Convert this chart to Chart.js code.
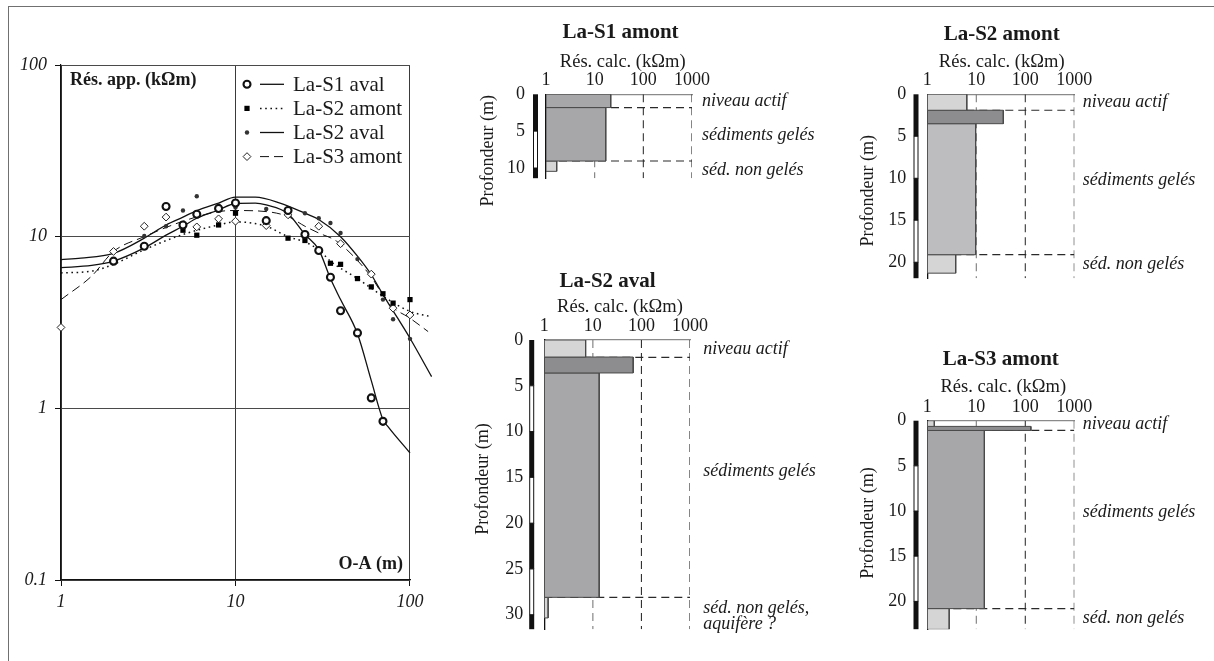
<!DOCTYPE html>
<html lang="fr">
<head>
<meta charset="utf-8">
<title>Sondages électriques – La</title>
<script src="https://cdn.jsdelivr.net/npm/chart.js@4.4.1/dist/chart.umd.min.js"></script>
<style>
  html, body { margin: 0; padding: 0; background: #fff; }
  body { position: relative; width: 1214px; height: 661px; overflow: hidden; }
  #frame { position: absolute; left: 8px; top: 6px; right: -4px; bottom: -4px;
           border-left: 1px solid #707070; border-top: 1px solid #707070; }
  canvas { position: absolute; }
</style>
</head>
<body>
<div id="frame"></div>
<canvas id="sondages" width="460" height="661" style="left:0;top:0"></canvas>
<canvas id="pS1amont" width="360" height="200" style="left:470px;top:10px"></canvas>
<canvas id="pS2aval" width="360" height="411" style="left:470px;top:250px"></canvas>
<canvas id="pS2amont" width="364" height="300" style="left:850px;top:10px"></canvas>
<canvas id="pS3amont" width="364" height="321" style="left:850px;top:340px"></canvas>
<script>
const FONT = "'Liberation Serif', 'Times New Roman', serif";
const INK = '#1a1a1a';
Chart.defaults.font.family = FONT;
Chart.defaults.color = INK;

// ---------- Apparent resistivity soundings (kΩm) vs. half-spacing O-A (m) ----------
const oaTicks = [1, 10, 100];
const rhoTicks = [0.1, 1, 10, 100];

const s1AvalOA  = [2, 3, 4, 5, 6, 8, 10, 15, 20, 25, 30, 35, 40, 50, 60, 70];
const s1AvalRho = [7.2, 8.8, 15.0, 11.7, 13.5, 14.6, 15.7, 12.4, 14.2, 10.3, 8.3, 5.8, 3.7, 2.75, 1.15, 0.84];
const s1AvalFitOA  = [1, 1.5, 2, 3, 4, 5, 6, 8, 10, 13, 15, 20, 25, 30, 35, 40, 50, 60, 70, 75, 100];
const s1AvalFitRho = [6.6, 6.8, 7.2, 8.6, 10.2, 11.5, 12.8, 14.3, 15.6, 15.7, 15.3, 13.6, 10.3, 8.4, 5.7, 4.3, 2.72, 1.45, 0.86, 0.78, 0.55];

const s2AmontOA  = [5, 6, 8, 10, 20, 25, 35, 40, 50, 60, 70, 80, 100];
const s2AmontRho = [10.9, 10.2, 11.7, 13.7, 9.8, 9.5, 7.0, 6.9, 5.7, 5.1, 4.65, 4.1, 4.3];
const s2AmontFitOA  = [1, 1.5, 2, 3, 5, 8, 10, 15, 20, 25, 30, 35, 50, 70, 100, 130];
const s2AmontFitRho = [6.15, 6.3, 6.9, 8.4, 10.3, 11.7, 12.2, 11.5, 10.0, 9.3, 8.4, 7.2, 5.7, 4.5, 3.67, 3.43];

const s2AvalOA  = [3, 4, 5, 6, 8, 10, 15, 25, 30, 35, 40, 50, 70, 80, 100];
const s2AvalRho = [10.1, 11.5, 14.2, 17.2, 15.2, 14.8, 14.5, 13.7, 12.8, 12.0, 10.5, 7.4, 4.3, 3.3, 2.54];
const s2AvalFitOA  = [1, 1.3, 2, 3, 4, 5, 6, 8, 10, 13, 18, 25, 30, 40, 50, 60, 70, 85, 100, 133];
const s2AvalFitRho = [7.35, 7.5, 8.0, 9.8, 11.7, 13.0, 14.2, 15.7, 17.0, 17.0, 15.7, 13.7, 12.6, 10.0, 7.7, 6.0, 4.6, 3.35, 2.56, 1.53];

const s3AmontOA  = [1, 2, 3, 4, 6, 8, 10, 15, 20, 30, 40, 60, 80, 100];
const s3AmontRho = [2.96, 8.2, 11.5, 13.0, 11.4, 12.7, 12.3, 11.6, 13.4, 11.5, 9.1, 6.05, 3.83, 3.5];
const s3AmontFitOA  = [1, 1.5, 2, 3, 5, 8, 10, 15, 20, 25, 30, 38, 58, 77, 100, 127];
const s3AmontFitRho = [4.3, 5.9, 8.2, 10.0, 12.3, 14.0, 14.2, 14.0, 13.1, 11.5, 10.5, 9.4, 6.1, 4.0, 3.35, 2.8];

const soundingNames = ['La-S1 aval', 'La-S2 amont', 'La-S2 aval', 'La-S3 amont'];

// ---------- Inverted models: layer boundaries (m) and resistivity (kΩm) ----------
const resTicks = [1, 10, 100, 1000];

const s1AmontDepths = [0, 1.8, 9.05, 10.45];
const s1AmontRes = [21.4, 16.9, 1.66];
const s1AmontInterfaces = [1.8, 9.05];
const s1AmontDepthTicks = [0, 5, 10];
const s1AmontZones = ['niveau actif', 'sédiments gelés', 'séd. non gelés'];

const s2AmontDepths = [0, 1.9, 3.5, 19.1, 21.3];
const s2AmontRes = [6.4, 35.6, 9.7, 3.8];
const s2AmontInterfaces = [1.9, 19.1];
const s2AmontDepthTicks = [0, 5, 10, 15, 20];
const s2AmontZones = ['niveau actif', 'sédiments gelés', 'séd. non gelés'];

const s2AvalDepths = [0, 1.86, 3.6, 28.1, 30.35];
const s2AvalRes = [7.1, 67.7, 13.5, 1.2];
const s2AvalInterfaces = [1.9, 28.1];
const s2AvalDepthTicks = [0, 5, 10, 15, 20, 25, 30];
const s2AvalZones = ['niveau actif', 'sédiments gelés', 'séd. non gelés,', 'aquifère ?'];

const s3AmontDepths = [0, 0.63, 1.08, 20.8, 23.1];
const s3AmontRes = [1.39, 130, 14.6, 2.8];
const s3AmontInterfaces = [1.08, 20.8];
const s3AmontDepthTicks = [0, 5, 10, 15, 20];
const s3AmontZones = ['niveau actif', 'sédiments gelés', 'séd. non gelés'];

// ---------- helpers ----------
const pairs = (xs, ys) => xs.map((x, i) => ({ x, y: ys[i] }));

function markerSet(label, xs, ys, style) {
  return Object.assign({ label, data: pairs(xs, ys), showLine: false, clip: false }, style);
}
function curveSet(label, xs, ys, style) {
  return Object.assign({
    label, data: pairs(xs, ys), pointRadius: 0, borderColor: '#111', borderWidth: 1.3,
    cubicInterpolationMode: 'monotone', capBezierPoints: false, clip: false, fill: false
  }, style);
}

function drawMarker(ctx, ds, x, y) {
  const r = ds.pointRadius;
  ctx.save();
  ctx.beginPath();
  if (ds.pointStyle === 'rect') {
    const h = r * Math.SQRT1_2;
    ctx.rect(x - h, y - h, 2 * h, 2 * h);
  } else if (ds.pointStyle === 'rectRot') {
    ctx.moveTo(x - r, y); ctx.lineTo(x, y - r); ctx.lineTo(x + r, y); ctx.lineTo(x, y + r); ctx.closePath();
  } else {
    ctx.arc(x, y, r, 0, Math.PI * 2);
  }
  ctx.fillStyle = ds.pointBackgroundColor;
  ctx.fill();
  if (ds.pointBorderWidth > 0) {
    ctx.lineWidth = ds.pointBorderWidth;
    ctx.strokeStyle = ds.pointBorderColor;
    ctx.stroke();
  }
  ctx.restore();
}

// ---------- left plot ----------
const markerStyles = [
  { pointStyle: 'circle', pointRadius: 3.5, pointBorderWidth: 2.1, pointBorderColor: '#111', pointBackgroundColor: '#fff' },
  { pointStyle: 'rect', pointRadius: 3.7, pointBorderWidth: 0, pointBorderColor: '#000', pointBackgroundColor: '#000' },
  { pointStyle: 'circle', pointRadius: 2.2, pointBorderWidth: 0, pointBorderColor: '#333', pointBackgroundColor: '#333' },
  { pointStyle: 'rectRot', pointRadius: 3.9, pointBorderWidth: 1, pointBorderColor: '#222', pointBackgroundColor: '#fff' }
];
const curveStyles = [
  { borderDash: [] },
  { borderDash: [1.6, 3.6], borderWidth: 1.5 },
  { borderDash: [] },
  { borderDash: [9, 5], borderWidth: 1 }
];

const soundingDatasets = [
  markerSet(soundingNames[0], s1AvalOA, s1AvalRho, markerStyles[0]),
  markerSet(soundingNames[1], s2AmontOA, s2AmontRho, markerStyles[1]),
  markerSet(soundingNames[2], s2AvalOA, s2AvalRho, markerStyles[2]),
  markerSet(soundingNames[3], s3AmontOA, s3AmontRho, markerStyles[3]),
  curveSet(soundingNames[0], s1AvalFitOA, s1AvalFitRho, curveStyles[0]),
  curveSet(soundingNames[1], s2AmontFitOA, s2AmontFitRho, curveStyles[1]),
  curveSet(soundingNames[2], s2AvalFitOA, s2AvalFitRho, curveStyles[2]),
  curveSet(soundingNames[3], s3AmontFitOA, s3AmontFitRho, curveStyles[3])
];

const soundingDecor = {
  id: 'soundingDecor',
  afterDraw(chart) {
    const { ctx, chartArea: a } = chart;
    const sets = chart.data.datasets;
    ctx.save();
    ctx.fillStyle = INK;
    ctx.textBaseline = 'middle';
    ctx.font = `bold 18px ${FONT}`;
    ctx.textAlign = 'left';
    ctx.fillText('Rés. app. (kΩm)', a.left + 9, a.top + 15);
    ctx.textAlign = 'right';
    ctx.fillText('O-A (m)', a.right - 7, a.bottom - 16);

    // legend: marker + line sample + name
    const n = soundingNames.length;
    for (let i = 0; i < n; i++) {
      const y = a.top + 19.3 + i * 24.1;
      const mk = sets[i], ln = sets[i + n];
      drawMarker(ctx, mk, a.left + 186, y);
      ctx.beginPath();
      ctx.setLineDash(ln.borderDash || []);
      ctx.lineWidth = ln.borderWidth;
      ctx.strokeStyle = ln.borderColor;
      ctx.moveTo(a.left + 199, y);
      ctx.lineTo(a.left + 223, y);
      ctx.stroke();
      ctx.setLineDash([]);
      ctx.font = `21px ${FONT}`;
      ctx.textAlign = 'left';
      ctx.fillStyle = INK;
      ctx.fillText(mk.label, a.left + 232, y + 1);
    }
    ctx.restore();
  }
};

new Chart(document.getElementById('sondages'), {
  type: 'line',
  data: { datasets: soundingDatasets },
  options: {
    responsive: false,
    animation: false,
    events: [],
    layout: { padding: { left: 0, top: 65, right: 50, bottom: 31 } },
    plugins: { legend: { display: false }, tooltip: { enabled: false } },
    scales: {
      x: {
        // a hair above 100 so the fitted curves keep their segment past the last spacing
        type: 'logarithmic', min: 1, max: 100.001,
        afterBuildTicks: s => { s.ticks = oaTicks.map(v => ({ value: v })); },
        afterFit: s => { s.height = 50; },
        ticks: { font: { family: FONT, size: 18, style: 'italic' }, color: INK, padding: 5,
                 autoSkip: false, maxRotation: 0, callback: v => String(v) },
        grid: { color: '#3a3a3a', lineWidth: 1, tickLength: 6, tickColor: '#111' },
        border: { color: '#111', width: 1.2 }
      },
      y: {
        type: 'logarithmic', min: 0.1, max: 100,
        afterBuildTicks: s => { s.ticks = rhoTicks.map(v => ({ value: v })); },
        afterFit: s => { s.width = 61; },
        ticks: { font: { family: FONT, size: 18, style: 'italic' }, color: INK, padding: 8,
                 autoSkip: false, callback: v => String(v) },
        grid: { color: '#4a4a4a', lineWidth: 1, tickLength: 6, tickColor: '#111' },
        border: { color: '#111', width: 1.2 }
      }
    }
  },
  plugins: [soundingDecor]
});

// ---------- layered models ----------
const LIGHT = '#d5d5d5', DARK = '#8d8d8f', MID = '#a7a7aa', MIDLIGHT = '#bdbdc0';
const refLineColors = ['#7a7a7a', '#333', '#222'];

const panels = [
  { id: 'pS1amont', title: 'La-S1 amont', depths: s1AmontDepths, res: s1AmontRes,
    interfaces: s1AmontInterfaces, depthTicks: s1AmontDepthTicks, zones: s1AmontZones,
    fills: [MID, MID, LIGHT],
    box: { yw: 76, xh: 84.3, pr: 138, pb: 5, maxDepth: 11.38, titleDx: 1.5, titleUp: 61.3,
           subDx: 3.7, subUp: 32.6, profDx: 58, profDy: 56.5, barDx: 10.5, zoneDx: 10,
           zoneAt: [0.9, 5.5, 10.35] } },
  { id: 'pS2amont', title: 'La-S2 amont', depths: s2AmontDepths, res: s2AmontRes,
    interfaces: s2AmontInterfaces, depthTicks: s2AmontDepthTicks, zones: s2AmontZones,
    fills: [LIGHT, DARK, MIDLIGHT, LIGHT],
    box: { yw: 77.3, xh: 84.3, pr: 139.7, pb: 7, maxDepth: 21.9, titleDx: 0.9, titleUp: 59.3,
           subDx: 0.9, subUp: 32.3, profDx: 59.3, profDy: 96.5, barDx: 11.3, zoneDx: 8.4,
           zoneAt: [0.9, 10.25, 20.2] } },
  { id: 'pS2aval', title: 'La-S2 aval', depths: s2AvalDepths, res: s2AvalRes,
    interfaces: s2AvalInterfaces, depthTicks: s2AvalDepthTicks, zones: s2AvalZones,
    fills: [LIGHT, DARK, MID, LIGHT],
    box: { yw: 74.3, xh: 90, pr: 140, pb: 21, maxDepth: 31.58, titleDx: -9.6, titleUp: 58.3,
           subDx: 2.8, subUp: 33.3, profDx: 61, profDy: 139, barDx: 12.6, zoneDx: 13.3,
           zoneAt: [1.05, 14.3, 29.3, 31.05] } },
  { id: 'pS3amont', title: 'La-S3 amont', depths: s3AmontDepths, res: s3AmontRes,
    interfaces: s3AmontInterfaces, depthTicks: s3AmontDepthTicks, zones: s3AmontZones,
    fills: [LIGHT, DARK, MID, LIGHT],
    box: { yw: 77.3, xh: 80.7, pr: 139.7, pb: 21, maxDepth: 23.08, titleDx: 0, titleUp: 60.7,
           subDx: 2.5, subUp: 34, profDx: 59.3, profDy: 102.3, barDx: 11.3, zoneDx: 8.4,
           zoneAt: [0.45, 10.1, 21.85] } }
];

function panelDecor(p) {
  const b = p.box;
  return {
    id: 'panelDecor',
    afterDraw(chart) {
      const { ctx, chartArea: a, scales: { y } } = chart;
      const cx = (a.left + a.right) / 2;
      ctx.save();
      ctx.fillStyle = INK;
      ctx.textAlign = 'center';
      ctx.textBaseline = 'middle';
      ctx.font = `bold 21px ${FONT}`;
      ctx.fillText(p.title, cx + b.titleDx, a.top - b.titleUp);
      ctx.font = `18.5px ${FONT}`;
      ctx.fillText('Rés. calc. (kΩm)', cx + b.subDx, a.top - b.subUp);

      // depth axis title
      ctx.save();
      ctx.translate(a.left - b.profDx, a.top + b.profDy);
      ctx.rotate(-Math.PI / 2);
      ctx.font = `18px ${FONT}`;
      ctx.fillText('Profondeur (m)', 0, 0);
      ctx.restore();

      // alternating 5 m depth scale bar
      const bx = a.left - b.barDx - 2.5;
      for (let d = 0, k = 0; d < b.maxDepth; d += 5, k++) {
        const y0 = y.getPixelForValue(d);
        const y1 = y.getPixelForValue(Math.min(d + 5, b.maxDepth));
        if (k % 2 === 0) {
          ctx.fillStyle = '#111';
          ctx.fillRect(bx, y0, 5, y1 - y0);
        } else {
          ctx.fillStyle = '#fff';
          ctx.fillRect(bx, y0, 5, y1 - y0);
          ctx.strokeStyle = '#111';
          ctx.lineWidth = 1;
          ctx.strokeRect(bx + 0.5, y0, 4, y1 - y0);
        }
      }

      // interpretation of the layers
      ctx.fillStyle = INK;
      ctx.textAlign = 'left';
      ctx.font = `italic 18px ${FONT}`;
      p.zones.forEach((txt, i) => {
        ctx.fillText(txt, a.right + b.zoneDx, y.getPixelForValue(b.zoneAt[i]));
      });
      ctx.restore();
    }
  };
}

function buildPanel(p) {
  const b = p.box;
  const datasets = [];
  // one filled rectangle per layer, from 1 kΩm to the layer resistivity
  p.res.forEach((v, i) => {
    const top = p.depths[i], bot = p.depths[i + 1];
    datasets.push({
      data: [{ x: 1, y: top }, { x: v, y: top }, { x: v, y: bot }, { x: 1, y: bot }, { x: 1, y: top }],
      fill: 'shape', backgroundColor: p.fills[i], borderColor: '#4a4a4a', borderWidth: 1,
      pointRadius: 0, tension: 0, order: 0
    });
  });
  // layer interfaces
  p.interfaces.forEach(d => {
    datasets.push({
      data: [{ x: 1, y: d }, { x: resTicks[resTicks.length - 1], y: d }],
      borderColor: '#2a2a2a', borderWidth: 1.2, borderDash: [8, 5], pointRadius: 0,
      fill: false, order: 1
    });
  });
  // decade reference lines
  resTicks.slice(1).forEach((v, i) => {
    datasets.push({
      data: [{ x: v, y: 0 }, { x: v, y: b.maxDepth }],
      borderColor: refLineColors[i], borderWidth: 1.1, borderDash: [8, 5], pointRadius: 0,
      fill: false, order: 2
    });
  });

  new Chart(document.getElementById(p.id), {
    type: 'line',
    data: { datasets },
    options: {
      responsive: false,
      animation: false,
      events: [],
      layout: { padding: { left: 0, top: 0, right: b.pr, bottom: b.pb } },
      plugins: { legend: { display: false }, tooltip: { enabled: false } },
      scales: {
        x: {
          type: 'logarithmic', position: 'top', min: 1, max: 1000,
          afterBuildTicks: s => { s.ticks = resTicks.map(v => ({ value: v })); },
          afterFit: s => { s.height = b.xh; },
          ticks: { font: { family: FONT, size: 18 }, color: INK, padding: 3, autoSkip: false,
                   maxRotation: 0, callback: v => String(v) },
          grid: { display: true, drawOnChartArea: false, drawTicks: false },
          border: { display: true, color: '#8a8a8a', width: 1.2 }
        },
        y: {
          type: 'linear', reverse: true, min: 0, max: b.maxDepth,
          afterBuildTicks: s => { s.ticks = p.depthTicks.map(v => ({ value: v })); },
          afterFit: s => { s.width = b.yw; },
          ticks: { font: { family: FONT, size: 18 }, color: INK, padding: 21, autoSkip: false,
                   callback: v => String(v) },
          grid: { display: true, drawOnChartArea: false, drawTicks: false },
          border: { display: true, color: '#111', width: 1.3 }
        }
      }
    },
    plugins: [panelDecor(p)]
  });
}

panels.forEach(buildPanel);
</script>
</body>
</html>
